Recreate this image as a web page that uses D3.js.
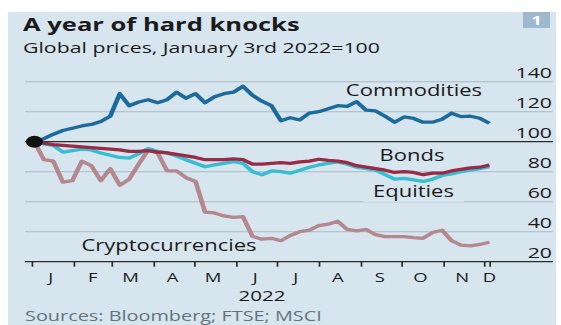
<!DOCTYPE html>
<html>
<head>
<meta charset="utf-8">
<script src="https://cdn.jsdelivr.net/npm/d3@7"></script>
<style>
  body { margin: 0; background: #fff; }
  svg { display: block; font-family: "Open Sans", sans-serif; }
</style>
</head>
<body>
<svg id="chart"></svg>
<script>
// weekly readings, Jan 3rd 2022 = 100
var dates = ["2022-01-03","2022-01-10","2022-01-17","2022-01-24","2022-01-31",
  "2022-02-07","2022-02-14","2022-02-21","2022-02-28",
  "2022-03-07","2022-03-14","2022-03-21","2022-03-28",
  "2022-04-04","2022-04-11","2022-04-18","2022-04-25",
  "2022-05-02","2022-05-09","2022-05-16","2022-05-23","2022-05-30",
  "2022-06-06","2022-06-13","2022-06-20","2022-06-27",
  "2022-07-04","2022-07-11","2022-07-18","2022-07-25",
  "2022-08-01","2022-08-08","2022-08-15","2022-08-22","2022-08-29",
  "2022-09-05","2022-09-12","2022-09-19","2022-09-26",
  "2022-10-03","2022-10-10","2022-10-17","2022-10-24","2022-10-31",
  "2022-11-07","2022-11-14","2022-11-21","2022-11-28",
  "2022-12-05"];

var commodities = [100,102,105,107.5,109,110.5,111.5,113.5,117,132,124,126.5,128,
  126,128,133,129,132,126,130,132,133,137,131,127,124,114,116,114.5,119,120,122,
  124,123.5,126.7,121,120.5,117,113,116.5,115.5,113,113,115,119,116.7,117,115.6,112.3];

var bonds = [100,99,98,97.5,97,96.5,96,95.5,95,94.5,93.5,93.5,94,93,92.5,91.5,
  90.5,89.5,88,88,88,88.5,88,85,85,85.6,86,85.6,86.5,87,88.3,87.5,87,86,84,83,82,
  81,79.5,80,79.5,78,79,79,80.5,81.5,82.5,83,84.5];

var equities = [100,98.5,97.5,93,94,95,94.5,92.5,91,89.5,89,92,95.5,93.5,92.5,
  90.5,88,85.6,83.3,84.5,85.6,86.7,85.6,80,78,80.5,80,79,81,83,84.5,85.6,86.5,85,
  83,82,81,78,75,75.5,74.5,73.5,75,77.5,78.5,80,81,82,83.3];

var cryptocurrencies = [100,88,87,73,74,87,84,74,82,71,75,85,94.5,92.5,80.5,80.5,76,73.5,
  53,52.5,50.5,49.5,50,37,35,35.6,34,37.5,40,41,44,45,47,41.5,40.5,41.5,38,36.7,
  36.7,36.7,36,35.6,39.5,41,34,31.1,30.5,31.5,33];

var yTicks = [20, 40, 60, 80, 100, 120, 140];
var monthLabels = ["J","F","M","A","M","J","J","A","S","O","N","D"];
var seriesNames = ["Cryptocurrencies", "Equities", "Bonds", "Commodities"];

var sx = 1.42;              // the picture is stretched sideways
var W = 561 / sx, H = 325;

var svg = d3.select("#chart")
  .attr("width", 561).attr("height", H)
  .attr("viewBox", "0 0 " + W + " " + H)
  .attr("preserveAspectRatio", "none");

var parse = d3.utcParse("%Y-%m-%d");
var days = dates.map(parse);

var x = d3.scaleUtc()
  .domain([parse("2022-01-01"), parse("2022-12-01")])
  .range([31.7 / sx, 484 / sx]);
var y = d3.scaleLinear().domain([20, 140]).range([261.7, 81.7]);

var gridL = 25 / sx, gridR = 553 / sx;

// panel
svg.append("rect").attr("x", 8 / sx).attr("y", 12)
  .attr("width", (556 - 8) / sx).attr("height", H - 12)
  .attr("fill", "#d7e5ee");

svg.append("rect").attr("x", 523 / sx).attr("y", 12)
  .attr("width", 27 / sx).attr("height", 16).attr("fill", "#9cb9cd");
svg.append("text").attr("x", 536.5 / sx).attr("y", 25)
  .attr("text-anchor", "middle").attr("font-size", 13).attr("font-weight", 700)
  .attr("fill", "#fff").text("1");

svg.append("text").attr("x", 23 / sx).attr("y", 31.5)
  .attr("font-size", 18).attr("font-weight", 700).attr("fill", "#1a1a1a")
  .text("A year of hard knocks");
svg.append("text").attr("x", 23 / sx).attr("y", 53)
  .attr("font-size", 15).attr("fill", "#1a1a1a")
  .text("Global prices, January 3rd 2022=100");

// gridlines and y labels
svg.append("g").selectAll("line").data(yTicks).join("line")
  .attr("x1", gridL).attr("x2", gridR)
  .attr("y1", function(d) { return y(d); })
  .attr("y2", function(d) { return y(d); })
  .attr("stroke", function(d) { return d == 100 || d == 20 ? "#2b2b2b" : "#a9bac6"; })
  .attr("stroke-width", function(d) { return d == 100 || d == 20 ? 1.3 : 1; });

svg.append("g").selectAll("text").data(yTicks).join("text")
  .attr("x", 552 / sx).attr("y", function(d) { return y(d) - 4; })
  .attr("text-anchor", "end").attr("font-size", 15).attr("fill", "#1a1a1a")
  .text(function(d) { return d; });

// x axis ticks
var monthStarts = d3.utcMonths(parse("2022-01-01"), parse("2022-12-02"));
var xAxis = d3.axisBottom(x)
  .tickValues(monthStarts.concat([days[days.length - 1]]))
  .tickSize(5).tickFormat("");
var gx = svg.append("g").attr("transform", "translate(0," + y(20) + ")").call(xAxis);
gx.select(".domain").remove();
gx.selectAll("line").attr("stroke", "#2b2b2b").attr("stroke-width", 1.2);

svg.append("g").selectAll("text").data(monthStarts).join("text")
  .attr("x", function(d, i) {
    if (i == 11) return x(days[days.length - 1]);
    return x(d3.utcDay.offset(d, 14));
  })
  .attr("y", 282).attr("text-anchor", "middle").attr("font-size", 13)
  .attr("fill", "#1a1a1a")
  .text(function(d, i) { return monthLabels[i]; });

svg.append("text").attr("x", 262 / sx).attr("y", 301)
  .attr("text-anchor", "middle").attr("font-size", 14.5).attr("fill", "#1a1a1a")
  .text("2022");

svg.append("text").attr("x", 25 / sx).attr("y", 321)
  .attr("font-size", 14).attr("fill", "#66737d")
  .text("Sources: Bloomberg; FTSE; MSCI");

// Equities label knocks out the 60 gridline
var eqLabel = svg.append("g");

var line = d3.line()
  .x(function(d, i) { return x(days[i]); })
  .y(function(d) { return y(d); });

var series = [cryptocurrencies, equities, bonds, commodities];
var colours = ["#b5878f", "#38bdd2", "#9a2a45", "#1c6b9c"];

svg.append("g").selectAll("path").data(series).join("path")
  .attr("d", line)
  .attr("fill", "none")
  .attr("stroke", function(d, i) { return colours[i]; })
  .attr("stroke-width", 3.3)
  .attr("stroke-linejoin", "round");

svg.append("circle").attr("cx", x(days[0])).attr("cy", y(100)).attr("r", 6)
  .attr("fill", "#111");

var labelPos = [[169, 251.5], [413.5, 197], [412, 161.5], [414, 96]];
var labels = svg.append("g").selectAll("text").data(seriesNames).join("text")
  .attr("x", function(d, i) { return labelPos[i][0] / sx; })
  .attr("y", function(d, i) { return labelPos[i][1]; })
  .attr("text-anchor", "middle").attr("font-size", 15.5).attr("fill", "#1a1a1a")
  .text(function(d) { return d; });

var bb = labels.filter(function(d) { return d == "Equities"; }).node().getBBox();
eqLabel.append("rect").attr("x", bb.x - 7).attr("y", bb.y)
  .attr("width", bb.width + 14).attr("height", bb.height)
  .attr("fill", "#d7e5ee");
</script>
</body>
</html>
